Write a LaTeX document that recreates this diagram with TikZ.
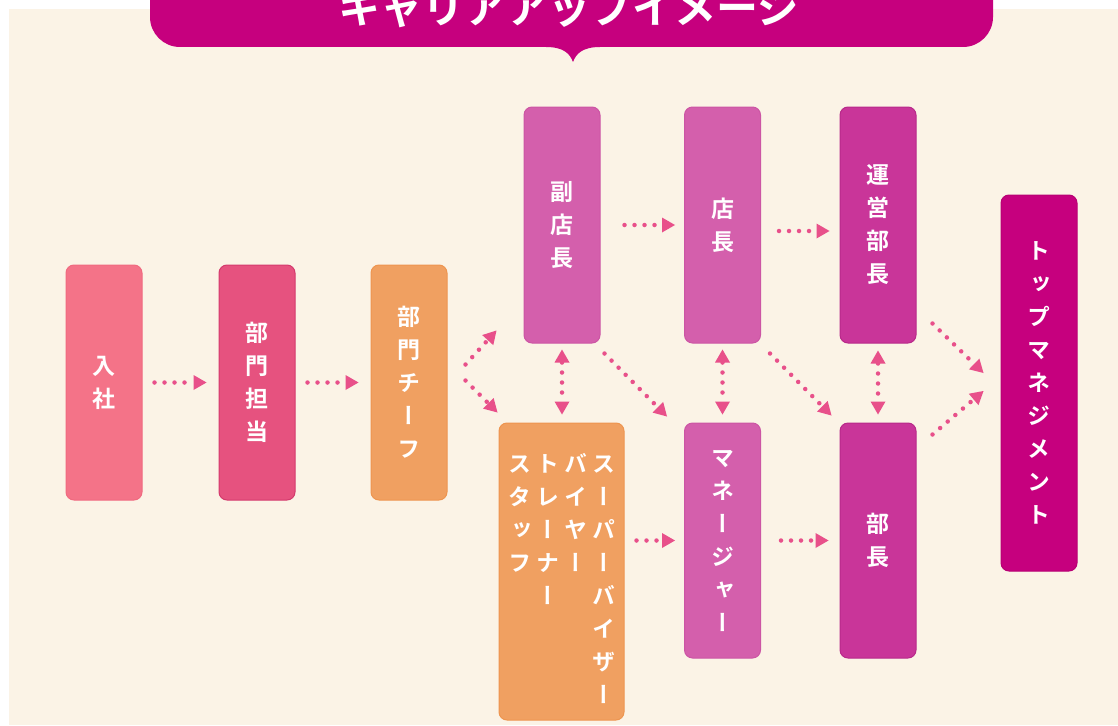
\documentclass[tikz,border=0pt]{standalone}
\usepackage{fontspec}
\newfontfamily\jpfont{Noto Sans CJK JP}[BoldFont={Noto Sans CJK JP Bold}]
\newfontfamily\tatefont{Noto Sans CJK JP Bold}[RawFeature=+vert]
\usetikzlibrary{arrows.meta,calc}
\definecolor{cream}{HTML}{FBF3E6}
\definecolor{titlered}{HTML}{C6007E}
\definecolor{arrowpink}{HTML}{E8508A}
\definecolor{nyushac}{HTML}{F47388}
\definecolor{nyushad}{HTML}{F06A80}
\definecolor{tantoc}{HTML}{E6527F}
\definecolor{tantod}{HTML}{D43A6D}
\definecolor{orangec}{HTML}{F0A061}
\definecolor{oranged}{HTML}{EE9550}
\definecolor{tenc}{HTML}{D45FAC}
\definecolor{tend}{HTML}{CC55A4}
\definecolor{buchoc}{HTML}{C93599}
\definecolor{buchod}{HTML}{B8298A}
\definecolor{topc}{HTML}{C6007E}
\definecolor{topd}{HTML}{B80074}
\begin{document}
\begin{tikzpicture}[x=1pt,y=-1pt,
  box/.style={rounded corners=8pt,line width=1pt,minimum width=76pt,minimum height=235pt,
    text=white,align=center,inner sep=0pt,font=\tatefont\fontsize{23pt}{33pt}\selectfont},
  dotline/.style={draw=arrowpink,line width=4.5pt,line cap=round,dash pattern=on 0pt off 10pt},
  onearrow/.style={dotline,-{Triangle[length=13pt,width=15pt,line width=0pt]}},
  twoarrow/.style={dotline,{Triangle[length=13pt,width=15pt,line width=0pt]}-{Triangle[length=13pt,width=15pt,line width=0pt]}}]
\useasboundingbox (0,0) rectangle (1118,725);
\clip (0,0) rectangle (1118,725);
\fill[white] (0,0) rectangle (1118,725);
\fill[cream] (9,9) rectangle (1118,725);
% banner
\fill[titlered] (150,-40) -- (150,17) arc[start angle=180,end angle=90,radius=30]
  -- (546,47) .. controls (564,47) and (570,54) .. (573,62)
  .. controls (576,54) and (582,47) .. (600,47)
  -- (963,47) arc[start angle=90,end angle=0,radius=30] -- (993,-40) -- cycle;
\node[text=white,font=\jpfont\bfseries\fontsize{42pt}{42pt}\selectfont,anchor=base] (title) at (569,24) {キャリアアップイメージ};
% boxes
\node[box,fill=nyushac,draw=nyushad] (nyusha) at (104,382.5) {入\\社};
\node[box,fill=tantoc,draw=tantod] (tanto) at (257,382.5) {部\\門\\担\\当};
\node[box,fill=orangec,draw=oranged] (chief) at (409,382.5) {部\\門\\チ\\ー\\フ};
\node[box,fill=tenc,draw=tend,minimum height=236pt] (fuku) at (562,225) {副\\店\\長};
\node[box,fill=tenc,draw=tend,minimum height=236pt] (ten) at (722.5,225) {店\\長};
\node[box,fill=buchoc,draw=buchod,minimum height=236pt] (unei) at (878,225) {運\\営\\部\\長};
\node[box,fill=topc,draw=topd,minimum height=376pt] (top) at (1039,383) {ト\\ッ\\プ\\マ\\ネ\\ジ\\メ\\ン\\ト};
\node[box,fill=orangec,draw=oranged,minimum width=125pt,minimum height=297pt] (spv) at (561.5,571.5)
  {\rule{0pt}{43pt}%
   \begin{tabular}[t]{@{}c@{}}ス\\タ\\ッ\\フ\end{tabular}\hspace{5pt}%
   \begin{tabular}[t]{@{}c@{}}ト\\レ\\ー\\ナ\\ー\end{tabular}\hspace{5pt}%
   \begin{tabular}[t]{@{}c@{}}バ\\イ\\ヤ\\ー\end{tabular}\hspace{5pt}%
   \begin{tabular}[t]{@{}c@{}}ス\\ー\\パ\\ー\\バ\\イ\\ザ\\ー\end{tabular}};
\node[box,fill=tenc,draw=tend] (mgr) at (722.5,540.5) {マ\\ネ\\ー\\ジ\\ャ\\ー};
\node[box,fill=buchoc,draw=buchod] (bucho) at (878,540.5) {部\\長};
% arrows
\draw[onearrow,shorten <=12pt,shorten >=12pt] (nyusha) -- (tanto);
\draw[onearrow,shorten <=12pt,shorten >=12pt] (tanto) -- (chief);
\draw[onearrow] ($(chief.east)+(18,-18)$) -- ($(fuku.south west)+(-27,-13)$);
\draw[onearrow] ($(chief.east)+(18,-2)$) -- ($(spv.north west)+(-1,-10)$);
\draw[onearrow,shorten <=24pt,shorten >=9pt] (fuku) -- (ten);
\draw[onearrow,shorten <=18pt,shorten >=10pt] ([yshift=-6pt]ten.east) -- ([yshift=-6pt]unei.west);
\draw[twoarrow,shorten <=6pt,shorten >=8pt] (fuku.south) -- (fuku.south |- spv.north);
\draw[twoarrow,shorten <=6pt,shorten >=8pt] (ten.south) -- (mgr.north);
\draw[twoarrow,shorten <=7pt,shorten >=8pt] (unei.south) -- (bucho.north);
\draw[onearrow] ($(fuku.south east)+(4,10)$) -- ($(mgr.north west)+(-17,-6)$);
\draw[onearrow] ($(ten.south east)+(9,10)$) -- ($(bucho.north west)+(-8,-7)$);
\draw[onearrow] ($(unei.south east)+(16,-20)$) -- ($(top.west)+(-17,-10)$);
\draw[onearrow] ($(bucho.north east)+(16,12)$) -- ($(top.west)+(-17,8)$);
\draw[onearrow,shorten <=12pt,shorten >=9pt] (spv.east |- mgr.west) -- (mgr.west);
\draw[onearrow,shorten <=20pt,shorten >=11pt] (mgr) -- (bucho);
\end{tikzpicture}
\end{document}
